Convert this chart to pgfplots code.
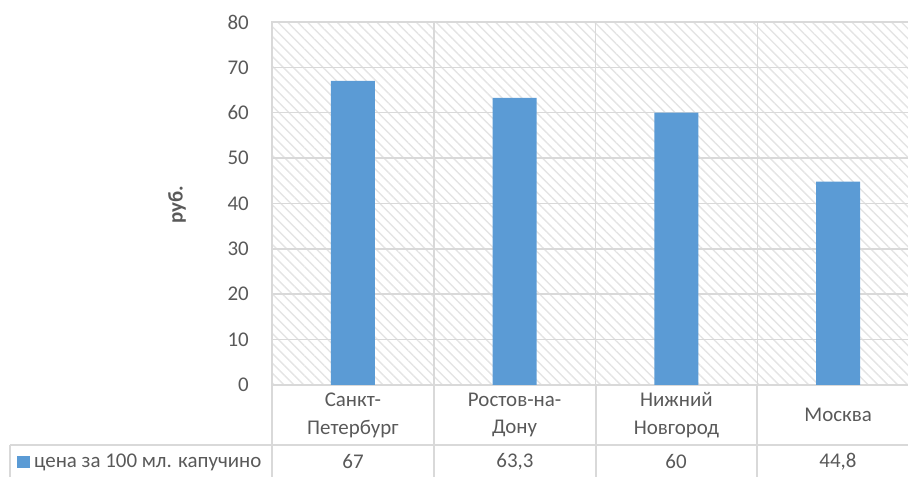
\documentclass[border=0pt]{standalone}
\usepackage{pgfplots}
\pgfplotsset{compat=1.18}
\usepackage{fontspec}
\setmainfont{Carlito}
\usetikzlibrary{patterns.meta}
\definecolor{barblue}{HTML}{5B9BD5}
\definecolor{gridgray}{HTML}{D9D9D9}
\definecolor{txt}{HTML}{595959}
\definecolor{hatch}{HTML}{E4E4E4}
\newcommand{\cf}{\fontsize{21}{28}\selectfont}
\begin{document}
\begin{tikzpicture}[x=1bp,y=1bp]
\begin{axis}[
  at={(272bp,92bp)}, anchor=south west,
  scale only axis, width=647bp, height=363bp,
  xmin=-0.5, xmax=3.5, ymin=0, ymax=80,
  ybar, bar width=44bp,
  ytick={0,10,...,80},
  xtick={0,1,2,3},
  xticklabels={{Санкт-\\Петербург},{Ростов-на-\\Дону},{Нижний\\Новгород},{Москва}},
  minor xtick={0.5,1.5,2.5},
  xminorgrids, ymajorgrids,
  major grid style={gridgray, line width=1.5bp},
  minor grid style={gridgray, line width=1.5bp},
  axis line style={gridgray, line width=1.5bp},
  major tick length=0pt, minor tick length=0pt,
  tick style={draw=none},
  axis background/.style={pattern={Lines[angle=-45,distance=7bp,line width=1.4bp]}, pattern color=hatch},
  /pgf/number format/assume math mode=true,
  ticklabel style={font=\cf, text=txt},
  yticklabel style={inner sep=0pt, anchor=east, xshift=-23bp},
  xticklabel style={align=center, anchor=center, inner sep=0pt, yshift=-30bp},
  clip=false,
]
\addplot[fill=barblue, draw=none] coordinates {(0,67) (1,63.3) (2,60) (3,44.8)};
\end{axis}
\node[rotate=90, font=\cf\bfseries, text=txt] at (177,272) {руб.};
\draw[gridgray, line width=1.5bp] (10,32) -- (925,32);
\foreach \x in {272,434,596,757} \draw[gridgray, line width=1.5bp] (\x,92) -- (\x,-3);
\draw[gridgray, line width=1.5bp] (10,32) -- (10,-3);
\fill[barblue] (17,8.5) rectangle (29.5,21);
\node[anchor=west, inner sep=0pt, font=\cf, text=txt] at (34,15) {цена за 100 мл. капучино};
\node[font=\cf, text=txt] at (353,15) {67};
\node[font=\cf, text=txt] at (515,15) {63,3};
\node[font=\cf, text=txt] at (676,15) {60};
\node[font=\cf, text=txt] at (838,15) {44,8};
\pgfresetboundingbox
\useasboundingbox (0,0) rectangle (908,477);
\end{tikzpicture}
\end{document}
